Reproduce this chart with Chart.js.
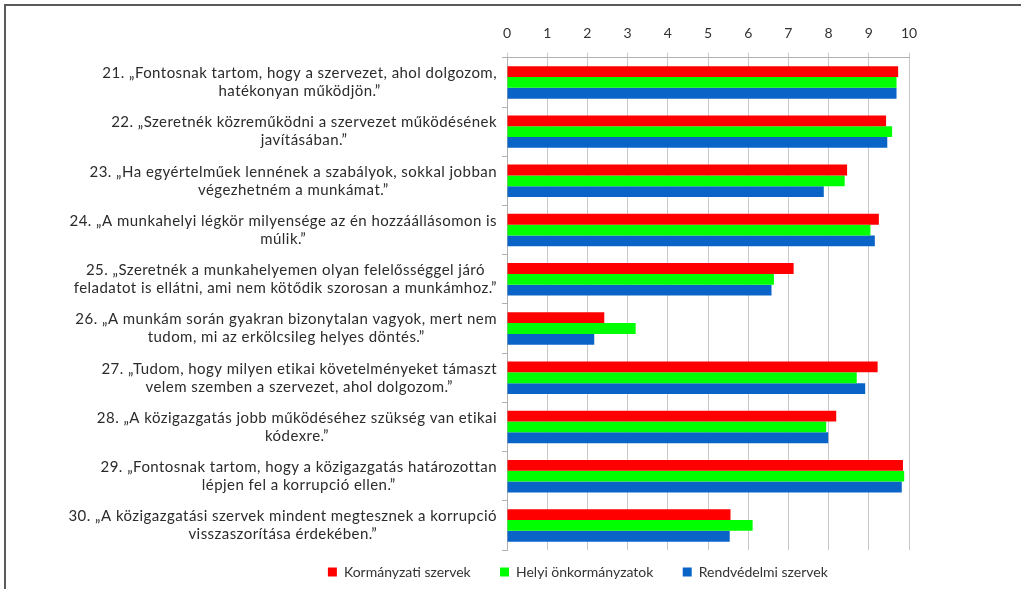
<!DOCTYPE html>
<html>
<head>
<meta charset="utf-8">
<script src="https://cdn.jsdelivr.net/npm/chart.js@4"></script>
<style>
  html, body { margin: 0; padding: 0; background: #fff; overflow: hidden; }
  .frame { position: absolute; left: 4px; top: 4px; width: 1017px; height: 585px;
           border-left: 2px solid #5a5a5a; border-top: 2px solid #5a5a5a; }
  .wrap { position: absolute; left: 6px; top: 6px; width: 1015px; height: 583px; }
</style>
</head>
<body>
<div class="frame"></div>
<div class="wrap"><canvas id="myChart"></canvas></div>
<script>
const categories = [
	['21. „Fontosnak tartom, hogy a szervezet, ahol dolgozom,', 'hatékonyan működjön.”'],
	['22. „Szeretnék közreműködni a szervezet működésének', 'javításában.”'],
	['23. „Ha egyértelműek lennének a szabályok, sokkal jobban', 'végezhetném a munkámat.”'],
	['24. „A munkahelyi légkör milyensége az én hozzáállásomon is', 'múlik.”'],
	['25. „Szeretnék a munkahelyemen olyan felelősséggel járó', 'feladatot is ellátni, ami nem kötődik szorosan a munkámhoz.”'],
	['26. „A munkám során gyakran bizonytalan vagyok, mert nem', 'tudom, mi az erkölcsileg helyes döntés.”'],
	['27. „Tudom, hogy milyen etikai követelményeket támaszt', 'velem szemben a szervezet, ahol dolgozom.”'],
	['28. „A közigazgatás jobb működéséhez szükség van etikai', 'kódexre.”'],
	['29. „Fontosnak tartom, hogy a közigazgatás határozottan', 'lépjen fel a korrupció ellen.”'],
	['30. „A közigazgatási szervek mindent megtesznek a korrupció', 'visszaszorítása érdekében.”']
];
const seriesNames = ['Kormányzati szervek', 'Helyi önkormányzatok', 'Rendvédelmi szervek'];
const kormanyzati = [9.73, 9.43, 8.46, 9.25, 7.13, 2.42, 9.22, 8.19, 9.85, 5.56];
const helyi = [9.69, 9.58, 8.40, 9.04, 6.64, 3.20, 8.70, 7.94, 9.88, 6.11];
const rendvedelmi = [9.69, 9.46, 7.88, 9.15, 6.58, 2.17, 8.91, 7.99, 9.82, 5.54];
const xTicks = [0, 1, 2, 3, 4, 5, 6, 7, 8, 9, 10];

// category labels: block right-aligned to the axis, lines centred inside the block
const catLabels = {
	id: 'catLabels',
	afterDraw(chart) {
		const ctx = chart.ctx;
		const y = chart.scales.y;
		const right = chart.chartArea.left - 10;
		const lh = 18;
		ctx.save();
		ctx.font = '15px Lato';
		ctx.letterSpacing = '0.45px';
		ctx.fillStyle = '#2b2b2b';
		ctx.textAlign = 'center';
		ctx.textBaseline = 'middle';
		categories.forEach((lines, i) => {
			const w = Math.max(...lines.map(l => ctx.measureText(l).width));
			const cx = right - w / 2;
			const cy = y.getPixelForValue(i);
			lines.forEach((l, j) => {
				ctx.fillText(l, cx, cy + (j - (lines.length - 1) / 2) * lh);
			});
		});
		ctx.restore();
	}
};

const ctx = document.getElementById('myChart').getContext('2d');
let myChart = new Chart(ctx, {
	type: 'bar',
	data: {
		labels: categories.map(c => c.join(' ')),
		datasets: [
			{ label: seriesNames[0], data: kormanyzati, backgroundColor: '#ff0000' },
			{ label: seriesNames[1], data: helyi, backgroundColor: '#00ff00' },
			{ label: seriesNames[2], data: rendvedelmi, backgroundColor: '#0a64c8' }
		]
	},
	options: {
		indexAxis: 'y',
		responsive: true,
		maintainAspectRatio: false,
		animation: false,
		datasets: { bar: { barPercentage: 1, categoryPercentage: 0.66 } },
		layout: { padding: { left: 255, right: 112, top: 8, bottom: 0 } },
		scales: {
			x: {
				position: 'top',
				min: 0,
				max: 10,
				afterBuildTicks: s => { s.ticks = xTicks.map(v => ({ value: v })); },
				ticks: { color: '#333', font: { family: 'Lato', size: 14 }, padding: 11 },
				grid: { color: '#c8c8c8', tickLength: 5 },
				border: { color: '#b0b0b0' }
			},
			y: {
				afterFit: s => { s.width = 246; },
				ticks: { display: false },
				grid: { drawOnChartArea: false, tickLength: 5, color: '#b0b0b0' },
				border: { color: '#b0b0b0' }
			}
		},
		plugins: {
			tooltip: { enabled: false },
			legend: {
				position: 'bottom',
				labels: {
					boxWidth: 9,
					boxHeight: 9,
					padding: 15,
					color: '#333',
					font: { family: 'Lato', size: 14 },
					generateLabels: chart => Chart.defaults.plugins.legend.labels.generateLabels(chart)
						.map(it => ({ ...it, text: it.text + '    ' }))
				}
			}
		}
	},
	plugins: [catLabels]
});
</script>
</body>
</html>
